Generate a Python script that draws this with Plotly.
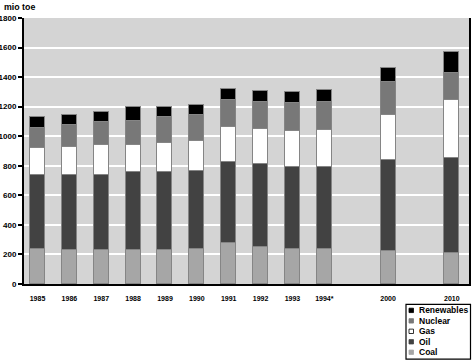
import plotly.graph_objects as go

# ---- data (mio toe) ----
years = ["1985", "1986", "1987", "1988", "1989", "1990", "1991", "1992", "1993", "1994*", "2000", "2010"]
coal = [235, 229, 229, 229, 229, 235, 279, 249, 235, 235, 222, 208]
oil = [506, 512, 512, 528, 528, 528, 548, 564, 558, 558, 620, 646]
gas = [178, 187, 198, 182, 198, 208, 236, 237, 239, 248, 305, 394]
nuclear = [138, 149, 160, 167, 174, 171, 181, 183, 194, 192, 218, 181]
renewables = [74, 68, 66, 93, 72, 66, 74, 72, 76, 78, 95, 139]
y_ticks = [0, 200, 400, 600, 800, 1000, 1200, 1400, 1600, 1800]

# category slots (gap before 2000 and 2010, as in the reference)
x_pos = list(range(10)) + [11, 13]

series = [
    ("Coal", coal, "#a6a6a6"),
    ("Oil", oil, "#424242"),
    ("Gas", gas, "#ffffff"),
    ("Nuclear", nuclear, "#787878"),
    ("Renewables", renewables, "#000000"),
]

FONT = "Liberation Sans, Arial, Helvetica, sans-serif"

fig = go.Figure()
for name, vals, col in series:
    fig.add_trace(go.Bar(
        x=x_pos, y=vals, name=name, width=0.47,
        marker=dict(color=col, line=dict(color="#858585", width=1)),
        showlegend=False,
        hovertemplate=name + ": %{y}<extra></extra>",
    ))

# plot area in pixels (for legend placement helpers)
L, R, T, B = 24, 469, 17.5, 284.5
W, H = 475, 362


def px(x):
    return (x - L) / (R - L)


def py(y):
    return (B - y) / (B - T)


shapes = []
annotations = []

# custom compact legend (top to bottom: Renewables ... Coal)
shapes.append(dict(type="rect", xref="paper", yref="paper",
                   x0=px(406), x1=px(470.5), y0=py(360), y1=py(305),
                   line=dict(color="black", width=1.2), fillcolor="white"))
leg_y = [311, 321.5, 332, 342.5, 353]
for (name, vals, col), yc in zip(reversed(series), leg_y):
    shapes.append(dict(type="rect", xref="paper", yref="paper",
                       x0=px(409), x1=px(413.5), y0=py(yc + 2.2), y1=py(yc - 2.2),
                       line=dict(color="black" if col == "#ffffff" else col, width=0.8),
                       fillcolor=col))
    annotations.append(dict(text=name, xref="paper", yref="paper",
                            x=px(416.5), y=py(yc), xanchor="left", yanchor="middle",
                            showarrow=False,
                            font=dict(family=FONT, size=8.5, color="black", weight="bold")))

annotations.append(dict(text="mio toe", xref="paper", yref="paper",
                        x=px(1.5), y=py(6), xanchor="left", yanchor="middle",
                        showarrow=False,
                        font=dict(family=FONT, size=8.8, color="black", weight="bold")))

fig.update_layout(
    width=W, height=H,
    margin=dict(l=L, r=W - R, t=T, b=H - B, pad=0),
    barmode="stack",
    bargap=0,
    paper_bgcolor="white",
    plot_bgcolor="#d4d4d4",
    font=dict(family=FONT, size=8, color="black"),
    shapes=shapes,
    annotations=annotations,
    xaxis=dict(
        range=[-0.424, 13.54],
        tickmode="array", tickvals=x_pos, ticktext=years,
        tickfont=dict(size=7, weight="bold"),
        ticks="outside", ticklen=7, tickcolor="rgba(0,0,0,0)",
        showgrid=False, zeroline=False,
        showline=True, linecolor="black", linewidth=2,
        fixedrange=True, automargin=False,
    ),
    yaxis=dict(
        range=[0, 1800],
        tickmode="array", tickvals=y_ticks,
        tickfont=dict(size=8, weight="bold"),
        ticks="outside", ticklen=4, tickwidth=1.5, tickcolor="black",
        showgrid=True, gridcolor="white", gridwidth=2,
        zeroline=False,
        showline=True, linecolor="black", linewidth=2, mirror=True,
        fixedrange=True, automargin=False,
    ),
)

fig.write_html(
    "out.html",
    config={"displayModeBar": False},
    post_script="document.body.style.margin='0';document.body.style.overflow='hidden';",
)
